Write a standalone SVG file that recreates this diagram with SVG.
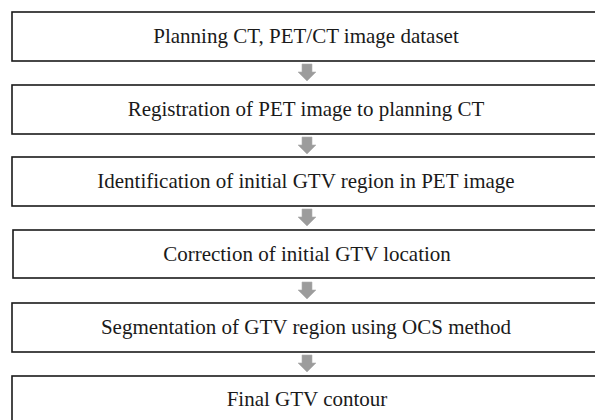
<svg xmlns="http://www.w3.org/2000/svg" width="595" height="420" viewBox="0 0 595 420">
<style>
.box{fill:#fff;stroke:#1a1a1a;stroke-width:1.6}
.lbl{font-family:"Liberation Serif","Times New Roman",serif;font-size:21px;fill:#1a1a1a;text-anchor:middle}
.arr{fill:#9c9c9c;stroke:#b0b0b0;stroke-width:0.6}
</style>
<defs>
<path id="blk" d="M-5,0 H5 V8 H9 L0,17 L-9,8 H-5 Z"/>
</defs>
<rect width="595" height="420" fill="#fff"/>
<g id="n1"><rect class="box" x="12" y="12" width="600" height="49"/><text class="lbl" x="306" y="43">Planning CT, PET/CT image dataset</text></g>
<g id="n2"><rect class="box" x="12" y="85" width="600" height="49"/><text class="lbl" x="306" y="116">Registration of PET image to planning CT</text></g>
<g id="n3"><rect class="box" x="12" y="157" width="600" height="49"/><text class="lbl" x="306" y="188">Identification of initial GTV region in PET image</text></g>
<g id="n4"><rect class="box" x="13" y="230" width="600" height="48"/><text class="lbl" x="307" y="261">Correction of initial GTV location</text></g>
<g id="n5"><rect class="box" x="12" y="303" width="600" height="49"/><text class="lbl" x="306" y="334">Segmentation of GTV region using OCS method</text></g>
<g id="n6"><rect class="box" x="12" y="376" width="600" height="60"/><text class="lbl" x="307" y="406">Final GTV contour</text></g>
<g id="connectors">
<use href="#blk" class="arr" x="307" y="64"/>
<use href="#blk" class="arr" x="307" y="137"/>
<use href="#blk" class="arr" x="307" y="209"/>
<use href="#blk" class="arr" x="307" y="282"/>
<use href="#blk" class="arr" x="307" y="355"/>
</g>
</svg>
